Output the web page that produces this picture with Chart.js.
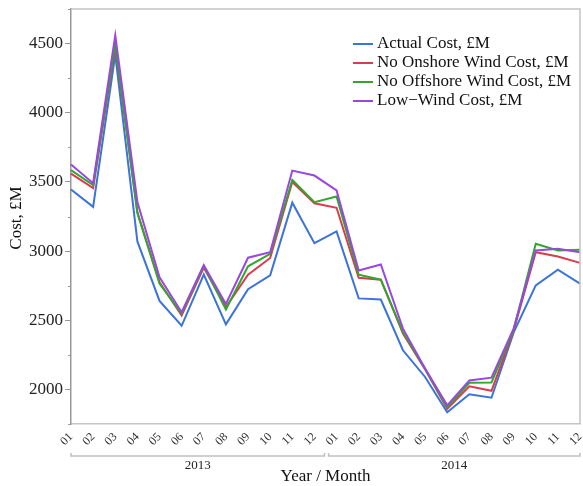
<!DOCTYPE html>
<html>
<head>
<meta charset="utf-8">
<script src="https://cdn.jsdelivr.net/npm/chart.js@4/dist/chart.umd.min.js"></script>
<style>
  html, body { margin: 0; padding: 0; background: #fff; }
  #wrap { width: 583px; height: 486px; }
</style>
</head>
<body>
<div id="wrap"><canvas id="costChart" width="583" height="486"></canvas></div>
<script>
var months = ["01", "02", "03", "04", "05", "06", "07", "08", "09", "10", "11", "12",
              "01", "02", "03", "04", "05", "06", "07", "08", "09", "10", "11", "12"];
var years = ["2013", "2014"];

var actualCost = [3445, 3320, 4420, 3070, 2640, 2460, 2830, 2470, 2725, 2825, 3350, 3057,
                  3142, 2658, 2650, 2283, 2090, 1835, 1965, 1940, 2410, 2752, 2865, 2765];
var noOnshoreCost = [3560, 3455, 4480, 3280, 2775, 2535, 2880, 2595, 2830, 2950, 3500, 3346,
                     3313, 2807, 2793, 2403, 2145, 1860, 2022, 1990, 2425, 2992, 2961, 2915];
var noOffshoreCost = [3585, 3478, 4500, 3275, 2765, 2547, 2893, 2578, 2890, 2980, 3515, 3353,
                      3395, 2829, 2793, 2414, 2150, 1870, 2048, 2050, 2430, 3053, 3004, 3009];
var lowWindCost = [3626, 3491, 4560, 3355, 2810, 2558, 2898, 2618, 2952, 2992, 3582, 3546,
                   3438, 2860, 2903, 2439, 2152, 1885, 2065, 2085, 2440, 3004, 3016, 2992];

var seriesNames = ["Actual Cost, £M", "No Onshore Wind Cost, £M", "No Offshore Wind Cost, £M", "Low\u2212Wind Cost, £M"];
var seriesColors = ["#3a73d9", "#da3b4d", "#2ea82e", "#9a46e0"];

var serif = "'Liberation Serif', 'DejaVu Serif', serif";

function isMajor(v) {
  return Math.round(Number(v)) % 500 === 0;
}

// frame, minor ticks, year brackets, titles and legend
var extras = {
  id: "extras",
  afterDraw: function(chart) {
    var ctx = chart.ctx;
    var area = chart.chartArea;
    var xs = chart.scales.x;
    var ys = chart.scales.y;
    ctx.save();

    // top and right frame lines
    ctx.strokeStyle = "#c4c4c4";
    ctx.lineWidth = 1.5;
    ctx.beginPath();
    ctx.moveTo(area.left, area.top);
    ctx.lineTo(area.right, area.top);
    ctx.lineTo(area.right, area.bottom);
    ctx.stroke();

    // minor y ticks
    ctx.strokeStyle = "#999";
    ctx.lineWidth = 1;
    ys.ticks.forEach(function(t) {
      if (!isMajor(t.value)) {
        var py = Math.round(ys.getPixelForValue(t.value)) + 0.5;
        ctx.beginPath();
        ctx.moveTo(area.left - 3, py);
        ctx.lineTo(area.left, py);
        ctx.stroke();
      }
    });

    // year brackets
    var bracketY = 456;
    ctx.strokeStyle = "#c0c0c0";
    ctx.lineWidth = 1.5;
    for (var i = 0; i < years.length; i++) {
      var x0 = xs.getPixelForValue(i * 12);
      var x1 = xs.getPixelForValue(i * 12 + 11);
      if (i === 0) { x1 = x1 + 10; } else { x0 = x0 - 8; }
      ctx.beginPath();
      ctx.moveTo(x0, bracketY - 3);
      ctx.lineTo(x0, bracketY);
      ctx.lineTo(x1, bracketY);
      ctx.lineTo(x1, bracketY - 3);
      ctx.stroke();
      ctx.fillStyle = "#222";
      ctx.font = "13px " + serif;
      ctx.textAlign = "center";
      ctx.textBaseline = "middle";
      ctx.fillText(years[i], (x0 + x1) / 2, 466);
    }

    // axis titles
    ctx.fillStyle = "#111";
    ctx.font = "17px " + serif;
    ctx.textAlign = "center";
    ctx.textBaseline = "middle";
    ctx.fillText("Year / Month", (area.left + area.right) / 2, 477);
    ctx.save();
    ctx.translate(17, 218);
    ctx.rotate(-Math.PI / 2);
    ctx.fillText("Cost, £M", 0, 0);
    ctx.restore();

    // legend
    ctx.font = "17px " + serif;
    ctx.textAlign = "left";
    ctx.textBaseline = "middle";
    for (var k = 0; k < seriesNames.length; k++) {
      var ly = 44 + k * 19;
      ctx.strokeStyle = seriesColors[k];
      ctx.lineWidth = 2;
      ctx.beginPath();
      ctx.moveTo(353, ly);
      ctx.lineTo(373, ly);
      ctx.stroke();
      ctx.fillStyle = "#111";
      ctx.fillText(seriesNames[k], 377, ly);
    }
    ctx.restore();
  }
};

var allSeries = [actualCost, noOnshoreCost, noOffshoreCost, lowWindCost];
var datasets = [];
for (var s = 0; s < allSeries.length; s++) {
  datasets.push({
    label: seriesNames[s],
    data: allSeries[s],
    borderColor: seriesColors[s],
    backgroundColor: seriesColors[s],
    borderWidth: 2,
    pointRadius: 0,
    tension: 0,
    fill: false,
    order: allSeries.length - s
  });
}

new Chart(document.getElementById("costChart"), {
  type: "line",
  data: { labels: months, datasets: datasets },
  plugins: [extras],
  options: {
    responsive: false,
    animation: false,
    layout: { padding: { top: 9, right: 3, left: 0, bottom: 0 } },
    plugins: { legend: { display: false }, tooltip: { enabled: false } },
    scales: {
      x: {
        type: "category",
        offset: false,
        afterFit: function(scale) {
          scale.height = 62;
          scale.paddingLeft = 0;
          scale.paddingRight = 0;
        },
        grid: { drawOnChartArea: false, drawTicks: false },
        border: { display: true, color: "#c4c4c4", width: 1.5 },
        ticks: {
          autoSkip: false,
          minRotation: 45,
          maxRotation: 45,
          padding: 6,
          color: "#333",
          font: { family: serif, size: 12 }
        }
      },
      y: {
        min: 1750,
        max: 4750,
        afterFit: function(scale) {
          scale.width = 71;
          scale.paddingTop = 0;
          scale.paddingBottom = 0;
        },
        grid: {
          drawOnChartArea: false,
          drawTicks: true,
          tickLength: 6,
          color: function(c) { return c.tick && isMajor(c.tick.value) ? "#999" : "rgba(0,0,0,0)"; }
        },
        border: { display: true, color: "#999", width: 1.5 },
        ticks: {
          stepSize: 250,
          maxTicksLimit: 20,
          padding: 2,
          color: "#222",
          font: { family: serif, size: 17 },
          callback: function(v) { return isMajor(v) ? String(Math.round(Number(v))) : ""; }
        }
      }
    }
  }
});
</script>
</body>
</html>
